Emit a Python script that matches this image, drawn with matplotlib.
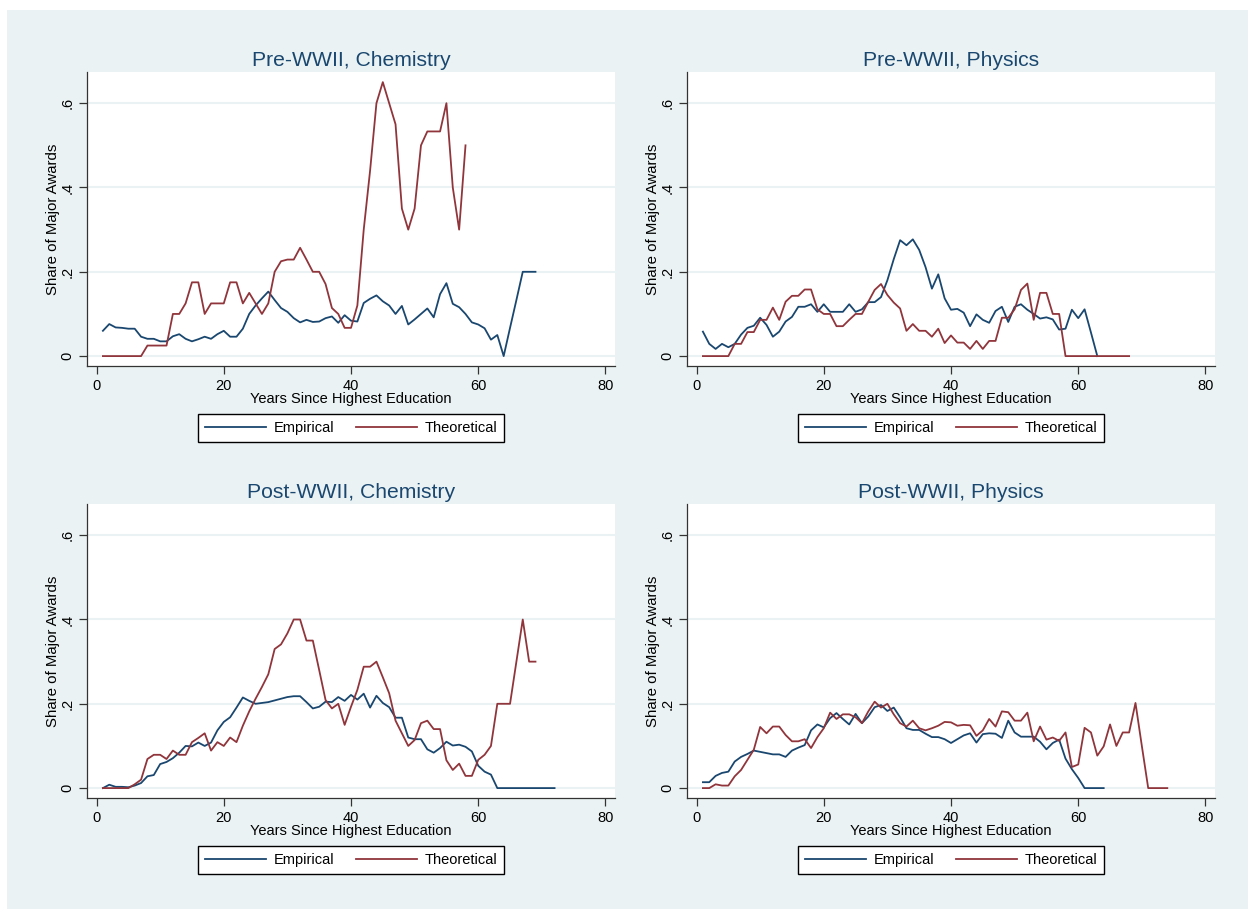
import matplotlib
matplotlib.use("Agg")
import matplotlib.pyplot as plt
import numpy as np
from matplotlib.patches import Rectangle

plt.rcParams['font.family'] = ['Liberation Sans', 'DejaVu Sans']

# Share of major awards by years since highest education
pre_chem_emp = [0.060, 0.076, 0.068, 0.067, 0.065, 0.065, 0.046, 0.041, 0.041, 0.035,
                0.035, 0.047, 0.052, 0.041, 0.035, 0.040, 0.046, 0.041, 0.052, 0.060,
                0.046, 0.046, 0.065, 0.100, 0.120, 0.137, 0.153, 0.133, 0.114, 0.105,
                0.090, 0.080, 0.086, 0.081, 0.082, 0.090, 0.094, 0.079, 0.097, 0.084,
                0.082, 0.126, 0.136, 0.144, 0.130, 0.120, 0.100, 0.119, 0.075, 0.087,
                0.100, 0.113, 0.092, 0.147, 0.173, 0.124, 0.116, 0.100, 0.080, 0.075,
                0.066, 0.039, 0.050, 0.000, 0.067, 0.133, 0.200, 0.200, 0.200]
pre_chem_theo = [0, 0, 0, 0, 0, 0, 0, 0.025, 0.025, 0.025,
                 0.025, 0.100, 0.100, 0.125, 0.175, 0.175, 0.100, 0.125, 0.125, 0.125,
                 0.175, 0.175, 0.125, 0.150, 0.125, 0.100, 0.125, 0.200, 0.225, 0.229,
                 0.229, 0.257, 0.229, 0.200, 0.200, 0.171, 0.114, 0.100, 0.067, 0.067,
                 0.120, 0.300, 0.440, 0.600, 0.650, 0.600, 0.550, 0.350, 0.300, 0.350,
                 0.500, 0.533, 0.533, 0.533, 0.600, 0.400, 0.300, 0.500]

pre_phys_emp = [0.058, 0.029, 0.017, 0.029, 0.021, 0.029, 0.051, 0.067, 0.072, 0.091,
                0.074, 0.046, 0.058, 0.082, 0.093, 0.117, 0.117, 0.123, 0.105, 0.123,
                0.105, 0.105, 0.105, 0.123, 0.105, 0.111, 0.128, 0.128, 0.140, 0.180,
                0.230, 0.275, 0.263, 0.277, 0.252, 0.211, 0.160, 0.194, 0.137, 0.110,
                0.112, 0.103, 0.071, 0.099, 0.086, 0.079, 0.107, 0.117, 0.081, 0.117,
                0.123, 0.110, 0.100, 0.089, 0.092, 0.087, 0.063, 0.065, 0.110, 0.090,
                0.111, 0.056, 0.000]
pre_phys_theo = [0, 0, 0, 0, 0, 0.029, 0.029, 0.057, 0.057, 0.086,
                 0.086, 0.115, 0.086, 0.129, 0.143, 0.143, 0.158, 0.158, 0.111, 0.100,
                 0.100, 0.071, 0.071, 0.086, 0.100, 0.100, 0.129, 0.157, 0.171, 0.145,
                 0.127, 0.113, 0.060, 0.076, 0.060, 0.060, 0.046, 0.065, 0.031, 0.049,
                 0.032, 0.032, 0.017, 0.036, 0.017, 0.036, 0.036, 0.091, 0.091, 0.111,
                 0.157, 0.172, 0.086, 0.150, 0.150, 0.100, 0.100, 0, 0, 0,
                 0, 0, 0, 0, 0, 0, 0, 0]

post_chem_emp = [0.000, 0.008, 0.003, 0.003, 0.002, 0.006, 0.012, 0.028, 0.031, 0.057,
                 0.062, 0.071, 0.084, 0.100, 0.099, 0.108, 0.100, 0.108, 0.137, 0.157,
                 0.168, 0.191, 0.215, 0.207, 0.200, 0.202, 0.204, 0.208, 0.212, 0.216,
                 0.218, 0.218, 0.204, 0.189, 0.193, 0.205, 0.204, 0.216, 0.207, 0.221,
                 0.210, 0.224, 0.191, 0.219, 0.202, 0.192, 0.167, 0.167, 0.120, 0.116,
                 0.116, 0.092, 0.084, 0.095, 0.110, 0.101, 0.103, 0.098, 0.087, 0.053,
                 0.039, 0.032, 0, 0, 0, 0, 0, 0, 0, 0,
                 0, 0]
post_chem_theo = [0, 0, 0, 0, 0, 0.009, 0.020, 0.069, 0.079, 0.079,
                  0.069, 0.089, 0.079, 0.079, 0.109, 0.119, 0.130, 0.089, 0.109, 0.100,
                  0.120, 0.109, 0.148, 0.182, 0.212, 0.240, 0.270, 0.330, 0.341, 0.367,
                  0.400, 0.400, 0.350, 0.350, 0.280, 0.209, 0.189, 0.200, 0.150, 0.193,
                  0.233, 0.288, 0.288, 0.300, 0.263, 0.225, 0.160, 0.130, 0.100, 0.114,
                  0.154, 0.160, 0.140, 0.140, 0.066, 0.043, 0.058, 0.029, 0.029, 0.067,
                  0.079, 0.100, 0.200, 0.200, 0.200, 0.300, 0.400, 0.300, 0.300]

post_phys_emp = [0.014, 0.014, 0.029, 0.036, 0.039, 0.063, 0.074, 0.081, 0.089, 0.086,
                 0.083, 0.080, 0.080, 0.074, 0.089, 0.096, 0.102, 0.137, 0.151, 0.144,
                 0.166, 0.178, 0.164, 0.151, 0.176, 0.154, 0.170, 0.192, 0.197, 0.183,
                 0.191, 0.168, 0.142, 0.138, 0.138, 0.129, 0.121, 0.121, 0.116, 0.107,
                 0.116, 0.125, 0.130, 0.108, 0.128, 0.130, 0.129, 0.119, 0.160, 0.132,
                 0.122, 0.122, 0.122, 0.110, 0.092, 0.107, 0.115, 0.070, 0.045, 0.024,
                 0, 0, 0, 0]
post_phys_theo = [0, 0, 0.009, 0.006, 0.006, 0.028, 0.043, 0.067, 0.091, 0.145,
                  0.130, 0.146, 0.146, 0.126, 0.111, 0.111, 0.116, 0.095, 0.121, 0.142,
                  0.179, 0.164, 0.175, 0.175, 0.168, 0.154, 0.182, 0.205, 0.191, 0.200,
                  0.175, 0.154, 0.146, 0.160, 0.142, 0.137, 0.142, 0.148, 0.157, 0.156,
                  0.148, 0.150, 0.149, 0.124, 0.137, 0.164, 0.146, 0.182, 0.180, 0.160,
                  0.160, 0.179, 0.111, 0.146, 0.115, 0.120, 0.112, 0.132, 0.050, 0.056,
                  0.143, 0.132, 0.077, 0.099, 0.151, 0.100, 0.132, 0.132, 0.202, 0.100,
                  0, 0, 0, 0]

titles = ["Pre-WWII, Chemistry", "Pre-WWII, Physics",
          "Post-WWII, Chemistry", "Post-WWII, Physics"]
series = [(pre_chem_emp, pre_chem_theo), (pre_phys_emp, pre_phys_theo),
          (post_chem_emp, post_chem_theo), (post_phys_emp, post_phys_theo)]

x_ticks = [0, 20, 40, 60, 80]
y_ticks = [0, 0.2, 0.4, 0.6]
y_tick_labels = ["0", ".2", ".4", ".6"]

BG = '#EAF2F3'
NAVY = '#1A476F'
MAROON = '#90353B'

W, H = 1248, 909
fig = plt.figure(figsize=(W / 100, H / 100), dpi=100)
fig.patch.set_facecolor('white')
fig.patches.append(Rectangle((7 / W, 0), 1, 1 - 10 / H, transform=fig.transFigure,
                             facecolor=BG, edgecolor='none', zorder=-10))

# axes boxes in pixels: left, top
lefts = [87, 687, 87, 687]
tops = [72, 72, 504, 504]
aw, ah = 528, 294

for i in range(4):
    ax = fig.add_axes([lefts[i] / W, (H - tops[i] - ah) / H, aw / W, ah / H])
    emp, theo = series[i]
    ax.plot(np.arange(1, len(emp) + 1), emp, color=NAVY, lw=1.3, label='Empirical')
    ax.plot(np.arange(1, len(theo) + 1), theo, color=MAROON, lw=1.3, label='Theoretical')

    ax.set_xlim(-1.5, 81.5)
    ax.set_ylim(-0.0235, 0.674)
    ax.set_xticks(x_ticks)
    ax.set_yticks(y_ticks)
    ax.set_yticklabels(y_tick_labels, rotation=90, va='center')
    ax.tick_params(axis='both', length=6, width=0.9, color='#333333', labelsize=10.5, pad=3)
    ax.grid(axis='y', color=BG, lw=1.5)
    ax.set_axisbelow(True)
    for s in ['top', 'right']:
        ax.spines[s].set_visible(False)
    for s in ['left', 'bottom']:
        ax.spines[s].set_color('#333333')
        ax.spines[s].set_linewidth(0.9)

    ax.set_title(titles[i], fontsize=15.2, color=NAVY, pad=4)
    ax.set_xlabel('Years Since Highest Education', fontsize=10.5, labelpad=0)
    ax.set_ylabel('Share of Major Awards', fontsize=10.8, labelpad=0)

    leg = ax.legend(loc='center', bbox_to_anchor=(0.5, -0.211), ncol=2, fontsize=10.5,
                    handlelength=4.2, handletextpad=0.5, columnspacing=1.5,
                    fancybox=False, framealpha=1, edgecolor='black', borderpad=0.45)
    leg.get_frame().set_linewidth(1.0)

fig.savefig('out.png', dpi=100)
